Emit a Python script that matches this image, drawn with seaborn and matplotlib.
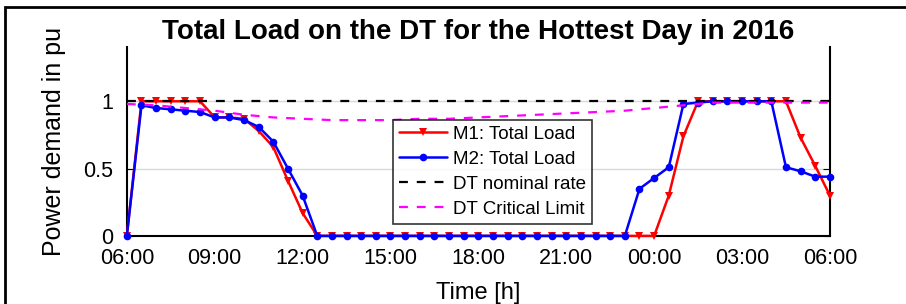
import numpy as np
import pandas as pd
import matplotlib
matplotlib.use("Agg")
import matplotlib.pyplot as plt
import seaborn as sns
from matplotlib.patches import Rectangle

# --- data (hours after 06:00, 30 min steps) ---
hours = np.arange(0, 24.5, 0.5)

m1_load = [0.00, 1.00, 1.00, 1.00, 1.00, 1.00, 0.88, 0.88, 0.87, 0.78,
           0.66, 0.41, 0.17, 0.00, 0.00, 0.00, 0.00, 0.00, 0.00, 0.00,
           0.00, 0.00, 0.00, 0.00, 0.00, 0.00, 0.00, 0.00, 0.00, 0.00,
           0.00, 0.00, 0.00, 0.00, 0.00, 0.00, 0.00, 0.30, 0.74, 1.00,
           1.00, 1.00, 1.00, 1.00, 1.00, 1.00, 0.73, 0.52, 0.30]

m2_load = [0.00, 0.97, 0.95, 0.94, 0.93, 0.92, 0.88, 0.88, 0.86, 0.81,
           0.70, 0.50, 0.30, 0.00, 0.00, 0.00, 0.00, 0.00, 0.00, 0.00,
           0.00, 0.00, 0.00, 0.00, 0.00, 0.00, 0.00, 0.00, 0.00, 0.00,
           0.00, 0.00, 0.00, 0.00, 0.00, 0.35, 0.43, 0.51, 0.98, 0.99,
           1.00, 1.00, 1.00, 1.00, 1.00, 0.51, 0.48, 0.44, 0.44]

# hourly critical limit of the DT
limit_hours = np.arange(0, 25, 1)
dt_critical = [0.98, 0.97, 0.95, 0.93, 0.90, 0.88, 0.87, 0.86, 0.86, 0.86,
               0.87, 0.87, 0.88, 0.89, 0.90, 0.91, 0.92, 0.93, 0.95, 0.97,
               0.99, 0.99, 0.99, 0.99, 0.99]
dt_nominal = 1.0

tick_hours = [0, 3, 6, 9, 12, 15, 18, 21, 24]
tick_labels = ["06:00", "09:00", "12:00", "15:00", "18:00", "21:00",
               "00:00", "03:00", "06:00"]

df = pd.DataFrame({"t": hours, "M1": m1_load, "M2": m2_load})
lim = pd.DataFrame({"t": limit_hours, "crit": dt_critical,
                    "nom": [dt_nominal] * len(limit_hours)})

sns.set_style("white")
plt.rcParams["font.family"] = ["Liberation Sans", "DejaVu Sans"]
plt.rcParams["text.color"] = "black"
plt.rcParams["axes.labelcolor"] = "black"
plt.rcParams["xtick.color"] = "black"
plt.rcParams["ytick.color"] = "black"

fig = plt.figure(figsize=(9.06, 3.04), dpi=100)
ax = fig.add_axes([0.140, 0.224, 0.776, 0.620])

sns.lineplot(data=df, x="t", y="M1", ax=ax, color="#ff0000", lw=1.8,
             marker="v", markersize=5.5, markeredgewidth=0,
             label="M1: Total Load", clip_on=False, zorder=3)
sns.lineplot(data=df, x="t", y="M2", ax=ax, color="#0000ff", lw=1.8,
             marker="o", markersize=5.5, markeredgewidth=0,
             label="M2: Total Load", clip_on=False, zorder=4)
sns.lineplot(data=lim, x="t", y="nom", ax=ax, color="black", lw=1.6,
             linestyle=(0, (4, 4)), label="DT nominal rate", zorder=5)
sns.lineplot(data=lim, x="t", y="crit", ax=ax, color="#ff00ff", lw=1.6,
             linestyle=(0, (4, 4)), label="DT Critical Limit", zorder=5)

ax.set_xlim(0, 24)
ax.set_ylim(0, 1.4)
ax.set_xticks(tick_hours)
ax.set_xticklabels(tick_labels)
ax.set_yticks([0, 0.5, 1])
ax.set_yticklabels(["0", "0.5", "1"])
ax.yaxis.grid(True, color="#d9d9d9", lw=1)
ax.set_axisbelow(True)
ax.tick_params(axis="y", direction="in", labelsize=15.5, length=5,
               right=True, left=True, pad=10)
ax.tick_params(axis="x", direction="in", labelsize=15.5, bottom=False,
               pad=9)

for side in ["left", "right", "bottom"]:
    ax.spines[side].set_visible(True)
    ax.spines[side].set_color("black")
    ax.spines[side].set_linewidth(1.5)
ax.spines["top"].set_visible(False)

ax.set_title("Total Load on the DT for the Hottest Day in 2016",
             fontsize=20, fontweight="bold", pad=6)
ax.set_xlabel("Time [h]", fontsize=17, labelpad=9)
ax.set_ylabel("Power demand in pu", fontsize=18, labelpad=12)

leg = ax.legend(loc="center", bbox_to_anchor=(0.52, 0.34), fontsize=13.5,
                frameon=True, fancybox=False, handlelength=2.6,
                borderpad=0.3, labelspacing=0.42, handletextpad=0.3)
leg.get_frame().set_edgecolor("black")
leg.get_frame().set_linewidth(1.2)

# outer frame of the original figure
fig.patches.append(Rectangle((5 / 906, -0.1), 1.2, 1.1 - 7 / 304,
                             transform=fig.transFigure, fill=False,
                             edgecolor="black", lw=2))

fig.savefig("out.png", dpi=100)
